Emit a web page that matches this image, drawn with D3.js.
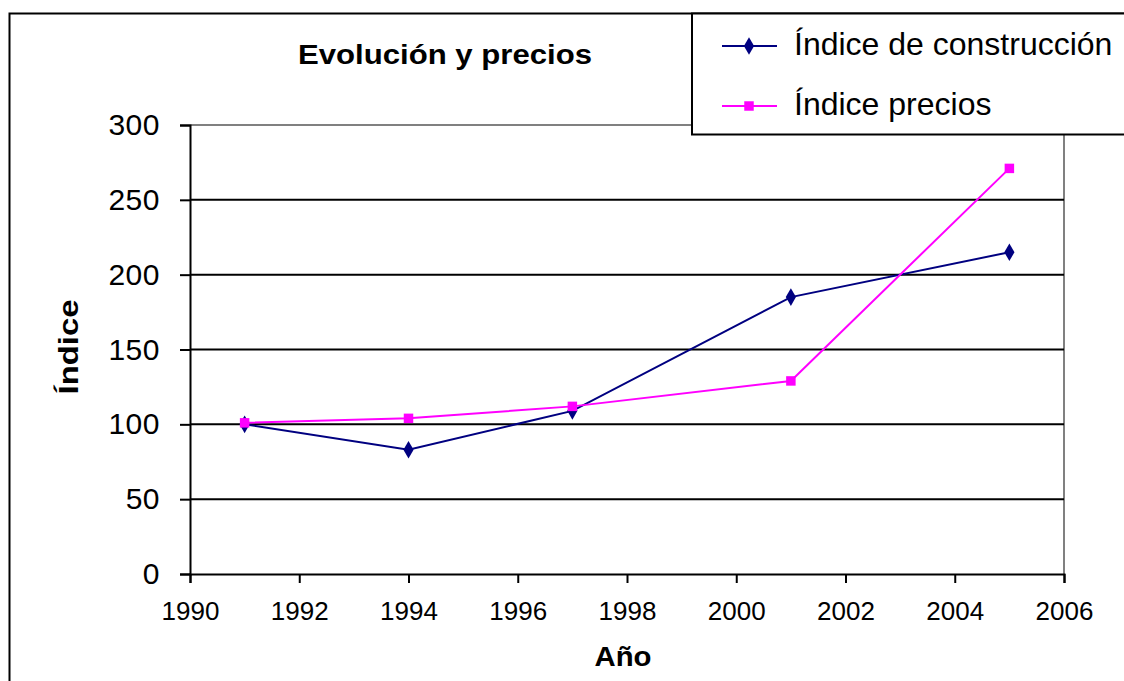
<!DOCTYPE html>
<html>
<head>
<meta charset="utf-8">
<script src="https://cdn.jsdelivr.net/npm/d3@7/dist/d3.min.js"></script>
<style>
  body { margin: 0; background: #fff; }
  svg { display: block; font-family: "Liberation Sans", Arial, sans-serif; }
</style>
</head>
<body>
<div id="chart"></div>
<script>
// Chart data
const years = [1991, 1994, 1997, 2001, 2005];
const construccion = [100, 83, 109, 185, 215];
const precios = [101, 104, 112, 129, 271];
const xTicks = [1990, 1992, 1994, 1996, 1998, 2000, 2002, 2004, 2006];
const yTicks = [0, 50, 100, 150, 200, 250, 300];
const seriesNames = ['Índice de construcción', 'Índice precios'];

const width = 1124, height = 681;
const margin = { top: 125, right: 60, bottom: 107, left: 190 };

const svg = d3.select('#chart')
    .append('svg')
    .attr('width', width)
    .attr('height', height);

// Outer chart border (only left/top visible, the rest runs off the picture)
svg.append('rect')
    .attr('x', 9.5).attr('y', 13.5)
    .attr('width', 1130).attr('height', 700)
    .attr('fill', 'none')
    .attr('stroke', '#000')
    .attr('stroke-width', 2);

const x = d3.scaleLinear()
    .domain([1990, 2006])
    .range([margin.left, width - margin.right]);

const y = d3.scaleLinear()
    .domain([0, 300])
    .range([height - margin.bottom, margin.top]);

// Plot area border (gray top/right)
svg.append('path')
    .attr('d', `M${x(1990)},${y(300)}H${x(2006)}V${y(0)}`)
    .attr('fill', 'none')
    .attr('stroke', '#808080')
    .attr('stroke-width', 2);

// Gridlines
svg.selectAll('.grid')
    .data(yTicks.filter(d => d > 0 && d < 300))
    .enter()
    .append('line')
    .attr('x1', x(1990))
    .attr('x2', x(2006))
    .attr('y1', d => y(d))
    .attr('y2', d => y(d))
    .attr('stroke', '#000')
    .attr('stroke-width', 2);

// Axes
const yAxis = d3.axisLeft(y)
    .tickValues(yTicks)
    .tickSize(10)
    .tickPadding(20)
    .tickFormat(d3.format('d'));

svg.append('g')
    .attr('transform', `translate(${margin.left},0)`)
    .call(yAxis)
    .call(g => g.select('.domain').attr('stroke-width', 2))
    .call(g => g.selectAll('.tick line').attr('stroke-width', 2))
    .call(g => g.selectAll('text')
        .attr('font-size', '30px')
        .attr('letter-spacing', '0.5px')
        .attr('fill', '#000'));

const xAxis = d3.axisBottom(x)
    .tickValues(xTicks)
    .tickSize(9)
    .tickPadding(19)
    .tickFormat(d3.format('d'));

svg.append('g')
    .attr('transform', `translate(0,${height - margin.bottom})`)
    .call(xAxis)
    .call(g => g.select('.domain').attr('stroke-width', 2))
    .call(g => g.selectAll('.tick line').attr('stroke-width', 2))
    .call(g => g.selectAll('text')
        .attr('font-size', '26px')
        .attr('fill', '#000'));

// Series
const series = [
    { name: seriesNames[0], values: construccion, color: '#000080', shape: d3.symbolDiamond, size: 90 },
    { name: seriesNames[1], values: precios, color: '#FF00FF', shape: d3.symbolSquare, size: 90 }
];

const line = d3.line()
    .x(d => x(d[0]))
    .y(d => y(d[1]));

series.forEach(s => {
    const pts = years.map((yr, i) => [yr, s.values[i]]);
    svg.append('path')
        .datum(pts)
        .attr('d', line)
        .attr('fill', 'none')
        .attr('stroke', s.color)
        .attr('stroke-width', 2);
    svg.selectAll(null)
        .data(pts)
        .enter()
        .append('path')
        .attr('transform', d => `translate(${x(d[0])},${y(d[1])})`)
        .attr('d', d3.symbol().type(s.shape).size(s.size))
        .attr('fill', s.color);
});

// Title (glyphs widened a bit to match the original's wider face)
svg.append('text')
    .attr('x', 445)
    .attr('y', 64)
    .attr('text-anchor', 'middle')
    .attr('font-size', '28px')
    .attr('font-weight', 'bold')
    .attr('textLength', 294)
    .attr('lengthAdjust', 'spacingAndGlyphs')
    .text('Evolución y precios');

// Axis titles
svg.append('text')
    .attr('x', 623)
    .attr('y', 666)
    .attr('text-anchor', 'middle')
    .attr('font-size', '28px')
    .attr('font-weight', 'bold')
    .attr('textLength', 57)
    .attr('lengthAdjust', 'spacingAndGlyphs')
    .text('Año');

svg.append('text')
    .attr('transform', 'translate(78,347) rotate(-90)')
    .attr('text-anchor', 'middle')
    .attr('font-size', '27px')
    .attr('font-weight', 'bold')
    .attr('textLength', 95)
    .attr('lengthAdjust', 'spacingAndGlyphs')
    .text('Índice');

// Legend
const legend = svg.append('g');
legend.append('rect')
    .attr('x', 692).attr('y', 13.5)
    .attr('width', 460).attr('height', 121)
    .attr('fill', '#fff')
    .attr('stroke', '#000')
    .attr('stroke-width', 2);

series.forEach((s, i) => {
    const ly = 46 + i * 60;
    legend.append('line')
        .attr('x1', 722).attr('x2', 777)
        .attr('y1', ly).attr('y2', ly)
        .attr('stroke', s.color)
        .attr('stroke-width', 2);
    legend.append('path')
        .attr('transform', `translate(749,${ly})`)
        .attr('d', d3.symbol().type(s.shape).size(s.size))
        .attr('fill', s.color);
    legend.append('text')
        .attr('x', 794)
        .attr('y', ly + 9)
        .attr('font-size', '32px')
        .text(s.name);
});
</script>
</body>
</html>
